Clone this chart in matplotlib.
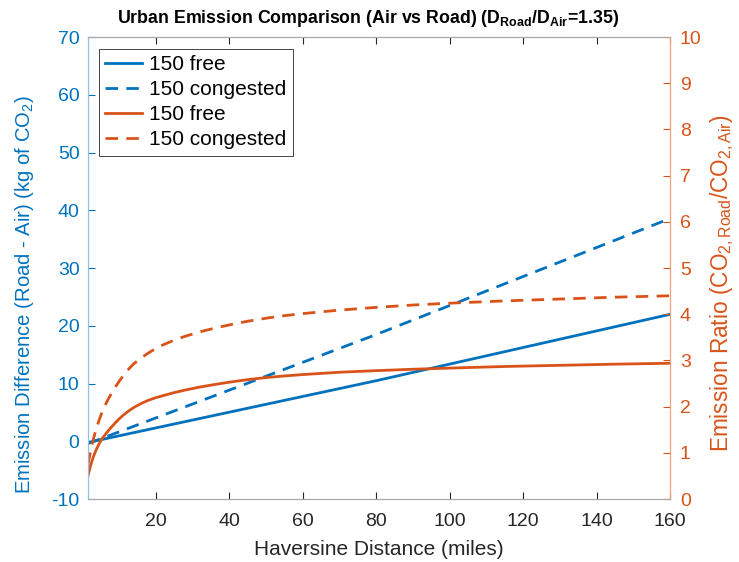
import matplotlib
matplotlib.use('Agg')
import matplotlib.pyplot as plt

plt.rcParams['font.family'] = ['Liberation Sans', 'DejaVu Sans']
plt.rcParams['mathtext.fontset'] = 'custom'
plt.rcParams['mathtext.rm'] = 'Liberation Sans'
plt.rcParams['mathtext.it'] = 'Liberation Sans'
plt.rcParams['mathtext.bf'] = 'Liberation Sans:bold'
plt.rcParams['axes.unicode_minus'] = False

# distance (miles) for the straight difference lines
dist_diff = [1.5, 80, 160]
diff_free = [-0.2, 10.5, 22.0]
diff_congested = [-0.4, 18.5, 38.6]

# distance (miles) for the ratio curves
dist_ratio = [1.5, 1.75, 2, 2.5, 3, 3.5, 4, 4.5, 5, 5.5, 6, 7, 8, 9, 10, 11,
              12, 13, 14, 16, 18, 20, 22, 25, 28, 32, 36, 40, 45, 50, 55, 60,
              70, 80, 90, 100, 115, 130, 145, 160]
ratio_free = [0.50, 0.58, 0.66, 0.80, 0.92, 1.02, 1.11, 1.19, 1.26, 1.325,
              1.375, 1.475, 1.568, 1.655, 1.735, 1.807, 1.872, 1.93, 1.983, 2.07,
              2.14, 2.195, 2.24, 2.305, 2.36, 2.425, 2.48, 2.53, 2.585, 2.63,
              2.665, 2.695, 2.745, 2.78, 2.81, 2.835, 2.87, 2.895, 2.92, 2.94]
ratio_congested = [0.74, 0.85, 0.95, 1.13, 1.30, 1.45, 1.58, 1.70, 1.81, 1.91,
                   2.00, 2.16, 2.30, 2.43, 2.55, 2.66, 2.76, 2.85, 2.93, 3.055,
                   3.165, 3.26, 3.34, 3.44, 3.525, 3.62, 3.70, 3.77, 3.85, 3.915,
                   3.97, 4.015, 4.09, 4.15, 4.20, 4.24, 4.29, 4.33, 4.37, 4.40]

labels = ['150 free', '150 congested', '150 free', '150 congested']

blue = '#0072BD'
orange = '#D95319'
grey = '#262626'

fig = plt.figure(figsize=(7.39, 5.62), dpi=100)
ax = fig.add_axes([0.119, 0.112, 0.788, 0.822])
ax2 = ax.twinx()

dash = (4.5, 3)
l1, = ax.plot(dist_diff, diff_free, color=blue, lw=2)
l2, = ax.plot(dist_diff, diff_congested, color=blue, lw=2, dashes=dash)
l3, = ax2.plot(dist_ratio, ratio_free, color=orange, lw=2)
l4, = ax2.plot(dist_ratio, ratio_congested, color=orange, lw=2, dashes=dash)

ax.set_xlim(1.5, 160)
ax.set_ylim(-10, 70)
ax2.set_ylim(0, 10)
ax.set_xticks(range(20, 161, 20))
ax.set_yticks(range(-10, 71, 10))
ax2.set_yticks(range(0, 11))

ax.tick_params(axis='x', direction='in', top=True, colors=grey, labelsize=14, length=5, pad=10)
ax.tick_params(axis='y', direction='in', colors=blue, labelsize=14, length=5, pad=6)
ax2.tick_params(axis='y', direction='in', colors=orange, labelsize=14, length=5, pad=7)

for a in (ax, ax2):
    a.spines['top'].set_color('#a8a8a8')
    a.spines['bottom'].set_color('#a8a8a8')
    a.spines['left'].set_color('#8fc1e6')
    a.spines['right'].set_color('#eea07e')

ax.set_xlabel('Haversine Distance (miles)', fontsize=15, color=grey, labelpad=7)
ax.set_ylabel('Emission Difference (Road - Air) (kg of CO$_2$)', fontsize=14.6, color=blue)
ax.yaxis.set_label_coords(-0.09, 0.442)
ax2.set_ylabel('Emission Ratio (CO$_{2,Road}$/CO$_{2,Air}$)', fontsize=16.3, color=orange)
ax2.yaxis.set_label_coords(1.065, 0.467)
ax.set_title(r'Urban Emission Comparison (Air vs Road) (D$_{\mathbf{Road}}$/D$_{\mathbf{Air}}$=1.35)',
             fontsize=12.8, fontweight='bold', pad=10, x=0.481)

leg = ax2.legend([l1, l2, l3, l4], labels, loc='upper left', fontsize=15,
                 bbox_to_anchor=(0.019, 0.974), borderaxespad=0, fancybox=False,
                 framealpha=1, edgecolor=grey, handlelength=1.75, borderpad=0.3,
                 labelspacing=0.29, handletextpad=0.35)
leg.get_frame().set_linewidth(0.6)

fig.savefig('out.png', dpi=100)
